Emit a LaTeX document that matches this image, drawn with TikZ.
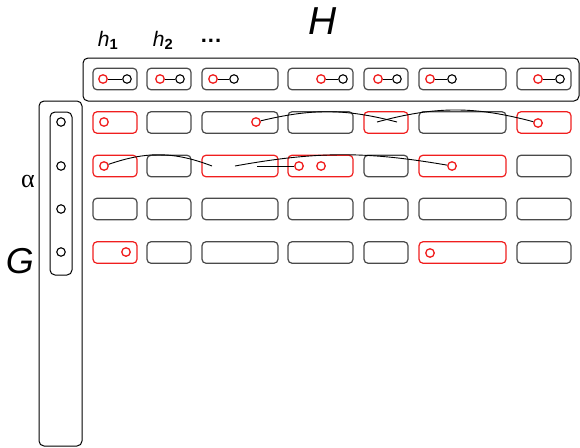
\documentclass[tikz,border=0pt]{standalone}
\usepackage{fontspec}
\setmainfont{Liberation Sans}
\newfontfamily\greekfont{Liberation Serif}
\usetikzlibrary{positioning}
\definecolor{mapRed}{HTML}{F01E1E}
\definecolor{cellGray}{HTML}{4A4A4A}

\begin{document}
\begin{tikzpicture}[
  x=1pt, y=-1pt,
  cell/.style={rectangle, draw=cellGray, line width=1.2pt, rounded corners=4pt, inner sep=0pt, minimum height=21.5pt},
  hit/.style={draw=mapRed},
  frame/.style={rectangle, draw=black, line width=1pt, rounded corners=5pt, inner sep=0pt},
  ring/.style={circle, draw=black, line width=1.1pt, minimum size=8.5pt, inner sep=0pt},
  redring/.style={ring, draw=mapRed, line width=1.3pt},
  link/.style={black, line width=0.9pt},
  lab/.style={inner sep=0pt, font=\itshape},
  % highlighted cells of the map
  c1-1/.style=hit, c1-5/.style=hit, c1-7/.style=hit,
  c2-1/.style=hit, c2-3/.style=hit, c2-4/.style=hit, c2-6/.style=hit,
  c4-1/.style=hit, c4-6/.style=hit,
]
\useasboundingbox (0,0) rectangle (580,447);

% Frames of H and G
\node[frame, minimum width=496pt, minimum height=43pt] (Hframe) at (331,79.5) {};
\node[frame, minimum width=43pt, minimum height=345pt] (Gframe) at (60.5,273.5) {};
\node[frame, minimum width=22pt, minimum height=163pt] (Gcol) at (61,193.5) {};

% Row of H, and the grid below it
\foreach \c/\cx/\w in {1/115/44, 2/169/44, 3/240/76, 4/320.5/65, 5/386/44, 6/462.5/87, 7/544/54} {
  \node[cell, minimum width=\w] (h\c) at (\cx,79) {};
  \foreach \r/\cy in {1/122.5, 2/166, 3/209, 4/252.5}
    \node[cell, c\r-\c/.try, minimum width=\w] (g\r-\c) at (\cx,\cy) {};
}

% Vertices of H
\foreach \c/\xr/\xb in {1/103/127, 2/160/180, 3/213/234, 4/321/343, 5/378/397, 6/430/452, 7/538/560} {
  \node[redring] (hr\c) at (\xr,79) {};
  \node[ring] (hb\c) at (\xb,79) {};
  \draw[link] (hr\c) -- (hb\c);
}

% Vertices of G
\foreach \r/\cy in {1/122, 2/166, 3/209, 4/252}
  \node[ring] (v\r) at (61,\cy) {};

% Images in the grid
\node[redring] (a1) at (104,122) {};
\node[redring] (a3) at (256,122) {};
\node[redring] (a7) at (538,123) {};
\node[redring] (b1) at (104,166) {};
\node[redring] (b4) at (299,166) {};
\node[redring] (b4x) at (321,166) {};
\node[redring] (b6) at (452,166) {};
\node[redring] (d1) at (126,252) {};
\node[redring] (d6) at (430,253) {};

\coordinate (endA) at (397,122);
\coordinate (startB) at (377,122);
\coordinate (endR) at (212,166);
\coordinate (startC) at (235,166);
\coordinate (startL) at (257,166);

\draw[link] (a3) to[bend left=14] (endA);
\draw[link] (startB) to[bend left=15] (a7);
\draw[link] (b1) to[bend left=20] (endR);
\draw[link] (startC) to[bend left=10] (b6);
\draw[link] (startL) -- (b4);

% Labels
\node[lab, font=\itshape\fontsize{21}{21}\selectfont] (h1lab) at (108,40) {h\textsubscript{\upshape\bfseries 1}};
\node[lab, font=\itshape\fontsize{21}{21}\selectfont] (h2lab) at (163,40) {h\textsubscript{\upshape\bfseries 2}};
\node[lab, font=\bfseries\fontsize{22}{22}\selectfont] (dots) at (211,41) {.\kern1pt.\kern1pt.};
\node[lab, font=\itshape\fontsize{39}{39}\selectfont] (Hlab) at (323,21) {H};
\node[lab, font=\greekfont\fontsize{26}{26}\selectfont] (alab) at (28,181) {α};
\node[lab, font=\itshape\fontsize{36}{36}\selectfont] (Glab) at (20,261) {G};

\end{tikzpicture}
\end{document}
